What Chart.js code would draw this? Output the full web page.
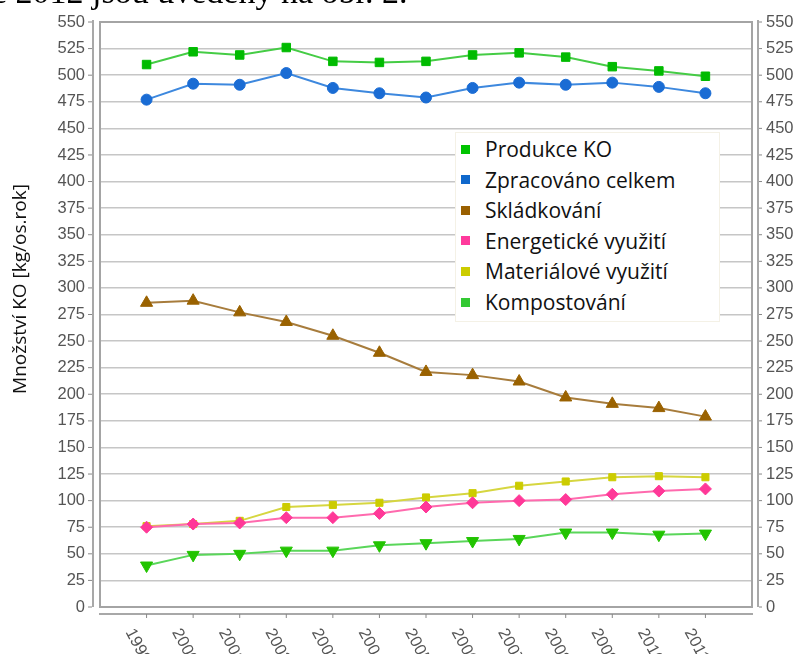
<!DOCTYPE html>
<html>
<head>
<meta charset="utf-8">
<script src="https://cdn.jsdelivr.net/npm/chart.js@4.4.0/dist/chart.umd.min.js"></script>
<style>
  html, body { margin: 0; padding: 0; background: #fff; overflow: hidden; }
  #wrap { position: relative; width: 798px; height: 654px; }
  #chart { display: block; }
  #topText { position: absolute; left: -8px; top: -25px; font: 34px "Liberation Serif", serif; line-height: 34px; color: #000; white-space: nowrap; }
  #legend { position: absolute; left: 455px; top: 132px; width: 265px; height: 190px; border: 1px solid #f4f1e6; background: #fff; box-sizing: border-box; }
  .item { position: absolute; left: 0; height: 30px; display: flex; align-items: center; font: 21px "Open Sans", sans-serif; color: #111; white-space: nowrap; }
  .sw { width: 9px; height: 9px; margin-left: 5px; margin-right: 15px; }
</style>
</head>
<body>
<div id="wrap">
  <canvas id="chart" width="798" height="654"></canvas>
  <div id="topText">e 2012 jsou uvedeny na obr. 2.</div>
  <div id="legend"></div>
</div>
<script>
// data
const years = [1999, 2000, 2001, 2002, 2003, 2004, 2005, 2006, 2007, 2008, 2009, 2010, 2011];
const produkce = [510, 522, 519, 526, 513, 512, 513, 519, 521, 517, 508, 504, 499];
const zpracovano = [477, 492, 491, 502, 488, 483, 479, 488, 493, 491, 493, 489, 483];
const skladkovani = [286, 288, 277, 268, 255, 239, 221, 218, 212, 197, 191, 187, 179];
const energeticke = [75, 78, 79, 84, 84, 88, 94, 98, 100, 101, 106, 109, 111];
const materialove = [76, 78, 81, 94, 96, 98, 103, 107, 114, 118, 122, 123, 122];
const kompostovani = [39, 49, 50, 53, 53, 58, 60, 62, 64, 70, 70, 68, 69];
const yTicks = [0, 25, 50, 75, 100, 125, 150, 175, 200, 225, 250, 275, 300, 325, 350, 375, 400, 425, 450, 475, 500, 525, 550];
const yTitle = 'Množství KO [kg/os.rok]';

function pts(arr) {
  return arr.map((v, i) => ({ x: years[i], y: v }));
}

const series = [
  { label: 'Produkce KO', data: produkce, line: '#45cc45', mark: '#00bb00', key: '#00c400', style: 'rect', r: 6, rot: 0 },
  { label: 'Zpracováno celkem', data: zpracovano, line: '#3d88de', mark: '#1a6cd4', key: '#0f68cc', style: 'circle', r: 5.5, rot: 0 },
  { label: 'Skládkování', data: skladkovani, line: '#a77c3c', mark: '#9a6200', key: '#9a6000', style: 'triangle', r: 7, rot: 0 },
  { label: 'Energetické využití', data: energeticke, line: '#ff6aae', mark: '#ff3898', key: '#ff3a9c', style: 'rectRot', r: 6, rot: 0 },
  { label: 'Materiálové využití', data: materialove, line: '#d6d640', mark: '#cccc00', key: '#cccc00', style: 'rect', r: 5, rot: 0 },
  { label: 'Kompostování', data: kompostovani, line: '#5ad65a', mark: '#22c400', key: '#33c933', style: 'triangle', r: 7, rot: 180 }
];

const axisDeco = {
  id: 'axisDeco',
  afterDraw(chart) {
    const ctx = chart.ctx;
    const a = chart.chartArea;
    const ys = chart.scales.y;
    const xs = chart.scales.x;
    ctx.save();
    // plot frame
    ctx.strokeStyle = '#a4a4a4';
    ctx.lineWidth = 2;
    ctx.strokeRect(a.left, a.top, a.right - a.left, a.bottom - a.top);
    // separate axis lines
    ctx.strokeStyle = '#a8a8a8';
    ctx.lineWidth = 2;
    ctx.beginPath();
    ctx.moveTo(a.left - 7, a.top - 2); ctx.lineTo(a.left - 7, a.bottom);
    ctx.moveTo(a.right + 6, a.top - 2); ctx.lineTo(a.right + 6, a.bottom);
    ctx.moveTo(a.left - 1, a.bottom + 7); ctx.lineTo(a.right + 1, a.bottom + 7);
    ctx.stroke();
    // y ticks both sides
    ctx.font = '16.5px "Liberation Sans", Arial, sans-serif';
    ctx.fillStyle = '#555';
    ctx.textBaseline = 'middle';
    ctx.lineWidth = 1;
    ctx.strokeStyle = '#888';
    yTicks.forEach(v => {
      const y = ys.getPixelForValue(v);
      ctx.beginPath();
      ctx.moveTo(a.left - 12, y); ctx.lineTo(a.left - 8, y);
      ctx.moveTo(a.right + 7, y); ctx.lineTo(a.right + 10, y);
      ctx.stroke();
      ctx.textAlign = 'right';
      ctx.fillText(String(v), a.left - 15, y);
      ctx.textAlign = 'left';
      ctx.fillText(String(v), a.right + 14, y);
    });
    // x ticks, rotated labels
    years.forEach(yr => {
      const x = xs.getPixelForValue(yr);
      ctx.beginPath();
      ctx.moveTo(x, a.bottom + 7); ctx.lineTo(x, a.bottom + 11);
      ctx.stroke();
      ctx.save();
      ctx.translate(x - 10, a.bottom + 19);
      ctx.rotate(62 * Math.PI / 180);
      ctx.textAlign = 'left';
      ctx.textBaseline = 'top';
      ctx.fillText(String(yr), 0, 0);
      ctx.restore();
    });
    // y axis title
    ctx.save();
    ctx.translate(21, 289);
    ctx.rotate(-Math.PI / 2);
    ctx.font = '19px "Open Sans", sans-serif';
    ctx.fillStyle = '#111';
    ctx.textAlign = 'center';
    ctx.textBaseline = 'middle';
    ctx.fillText(yTitle, 0, 0);
    ctx.restore();
    ctx.restore();
  }
};

const chart = new Chart(document.getElementById('chart'), {
  type: 'line',
  data: {
    datasets: series.map(s => ({
      label: s.label,
      data: pts(s.data),
      borderColor: s.line,
      backgroundColor: s.mark,
      borderWidth: 2,
      pointStyle: s.style,
      pointRadius: s.r,
      pointRotation: s.rot,
      pointBackgroundColor: s.mark,
      pointBorderColor: s.mark,
      pointBorderWidth: 1,
      tension: 0,
      fill: false
    }))
  },
  options: {
    responsive: false,
    animation: false,
    layout: { padding: { left: 100, right: 46, top: 22, bottom: 47 } },
    plugins: { legend: { display: false }, tooltip: { enabled: false } },
    scales: {
      x: {
        type: 'linear',
        display: false,
        min: 1998,
        max: 2012
      },
      y: {
        min: 0,
        max: 550,
        ticks: { display: false, stepSize: 25 },
        grid: { color: '#c6c6c6', lineWidth: 1.6, drawTicks: false },
        border: { display: false }
      }
    }
  },
  plugins: [axisDeco]
});

// html legend from the datasets
const legend = document.getElementById('legend');
series.forEach((s, i) => {
  const row = document.createElement('div');
  row.className = 'item';
  row.style.top = (1 + i * 30.6) + 'px';
  const sw = document.createElement('span');
  sw.className = 'sw';
  sw.style.background = s.key;
  row.appendChild(sw);
  row.appendChild(document.createTextNode(s.label));
  legend.appendChild(row);
});
</script>
</body>
</html>
